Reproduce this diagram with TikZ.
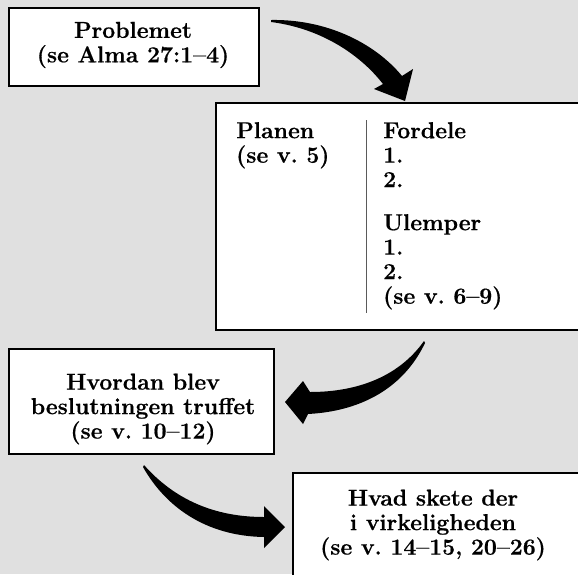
\documentclass[tikz,border=0pt]{standalone}
\usepackage{fontspec}
\setmainfont{Latin Modern Roman}[BoldFeatures={FakeBold=0.6}]
\definecolor{bg}{RGB}{224,224,224}
\definecolor{rule}{RGB}{90,90,90}
\frenchspacing
\begin{document}
\begin{tikzpicture}[x=1pt,y=-1pt,
  box/.style={draw=black, line width=1.3pt, fill=white, rectangle, inner sep=0pt},
  txt/.style={font=\fontsize{23}{24.5}\selectfont\bfseries, align=center, inner sep=0pt},
  ltxt/.style={font=\fontsize{23}{24.5}\selectfont\bfseries, align=left, inner sep=0pt, anchor=north west},
  bigarrow/.style={fill=black, draw=none}]
\useasboundingbox (0,0) rectangle (578,574);
\fill[bg] (0,0) rectangle (578,574);
\begin{scope}
\clip (0,0) rectangle (578,574);
% boxes
\node[box, minimum width=250, minimum height=78] (b1) at (134,47) {};
\node[box, minimum width=384, minimum height=227] (b2) at (408,216.5) {};
\node[box, minimum width=265, minimum height=105] (b3) at (141.5,401.5) {};
\node[box, minimum width=307, minimum height=127] (b4) at (446.5,536.5) {};
% texts
\node[txt] (t1) at (133,45) {Problemet\\(se Alma 27:1--4)};
\node[ltxt] (t2a) at (236,122) {Planen\\(se v. 5)};
\node[ltxt] (t2b) at (383,122) {Fordele\\1.\\2.};
\node[ltxt] (t2c) at (383,214) {Ulemper\\1.\\2.\\(se v. 6--9)};
\node[txt] (t3) at (143,409) {Hvordan blev\\beslutningen truffet\\(se v. 10--12)};
\node[txt] (t4) at (433,525) {Hvad skete der\\i virkeligheden\\(se v. 14--15, 20--26)};
\coordinate (d1) at (366.5,120);
\coordinate (d2) at (366.5,313);
\draw[rule, line width=1pt] (d1) -- (d2);
% curved arrows
\fill[bigarrow] (271,20) .. controls (325,19) and (374,42) .. (402,76)
  -- (413,69) -- (405,101) -- (374,89) -- (383,84)
  .. controls (358,52) and (318,28) .. (271,22) -- cycle;
\fill[bigarrow] (424,341) .. controls (400,375) and (360,392) .. (310,392)
  -- (303,381) -- (285,402) -- (303,424) -- (308,414)
  .. controls (365,411) and (405,385) .. (425,343) -- cycle;
\fill[bigarrow] (144,465) .. controls (175,500) and (215,517) .. (264,517)
  -- (264,506) -- (285,527) -- (264,548) -- (264,537)
  .. controls (205,536) and (165,506) .. (143,467) -- cycle;
\end{scope}
\end{tikzpicture}
\end{document}
